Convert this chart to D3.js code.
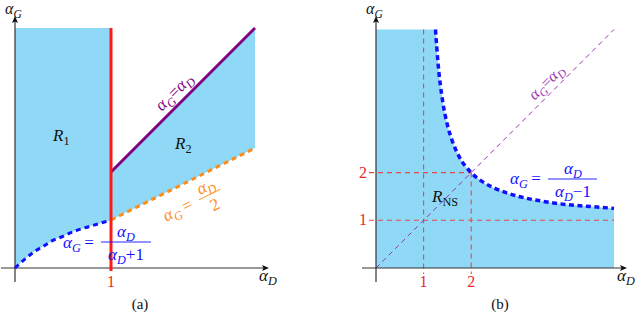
<!DOCTYPE html>
<html>
<head>
<meta charset="utf-8">
<script src="https://cdn.jsdelivr.net/npm/d3@7"></script>
<style>
  body { margin: 0; background: #fff; }
</style>
</head>
<body>
<div id="chart"></div>
<script>
// ---- panel (a) ----
var aDomain = [0, 2.5];
var aTicks = [1];
// alpha_G = alpha_D / (alpha_D + 1)
var aCurve = [[0, 0], [0.1, 0.09], [0.2, 0.17], [0.3, 0.23], [0.4, 0.29], [0.5, 0.33],
              [0.6, 0.375], [0.7, 0.41], [0.8, 0.44], [0.9, 0.47], [1, 0.5]];
var aHalf = [[1, 0.5], [2.5, 1.25]];   // alpha_G = alpha_D / 2
var aDiag = [[1, 1], [2.5, 2.5]];      // alpha_G = alpha_D

// ---- panel (b) ----
var bDomain = [0, 5];
var bTicks = [1, 2];
// alpha_G = alpha_D / (alpha_D - 1)
var bCurve = [[1.25, 5], [1.3, 4.33], [1.4, 3.5], [1.5, 3], [1.6, 2.67], [1.75, 2.33],
              [2, 2], [2.25, 1.8], [2.5, 1.67], [3, 1.5], [3.5, 1.4], [4, 1.33],
              [4.5, 1.29], [5, 1.25]];
var bDiag = [[0, 0], [5, 5]];

var fillBlue = '#8fd9f7';
var axisCol = '#333';
var serif = "'Liberation Serif'";

var svg = d3.select('#chart').append('svg')
    .attr('width', 640)
    .attr('height', 317)
    .style('font-family', serif);

var xA = d3.scaleLinear().domain(aDomain).range([15, 255]);
var yA = d3.scaleLinear().domain(aDomain).range([268, 28]);
var xB = d3.scaleLinear().domain(bDomain).range([376, 614]);
var yB = d3.scaleLinear().domain(bDomain).range([268, 29.5]);

// math-ish text: pieces are [string, kind], kind = i | n | sub | subr
function mathText(parent, x, y, pieces, size, color, anchor) {
    var t = parent.append('text')
        .attr('x', x).attr('y', y)
        .style('font-family', serif)
        .attr('font-size', size)
        .attr('fill', color)
        .attr('text-anchor', anchor || 'start');
    var shift = 0;
    pieces.forEach(function(p) {
        var sub = p[1] === 'sub' || p[1] === 'subr';
        var target = sub ? size * 0.25 : 0;
        t.append('tspan').text(p[0])
            .attr('dy', target - shift)
            .attr('font-size', sub ? size * 0.72 : size)
            .style('font-style', (p[1] === 'i' || p[1] === 'sub') ? 'italic' : 'normal');
        shift = target;
    });
    return t;
}

function plainText(parent, x, y, str, size, color) {
    return parent.append('text').attr('x', x).attr('y', y)
        .attr('text-anchor', 'middle')
        .style('font-family', serif)
        .attr('font-size', size).attr('fill', color).text(str);
}

function arrowHead(x, y, dir) {
    var d = dir === 'up' ? 'M0,0 L-3,7 L0,5.5 L3,7 Z' : 'M0,0 L-7,-3 L-5.5,0 L-7,3 Z';
    svg.append('path').attr('d', d).attr('fill', '#111')
        .attr('transform', 'translate(' + x + ',' + y + ')');
}

// ===================== panel (a) =====================
var gA = svg.append('g');

gA.append('path')
    .datum(aCurve)
    .attr('fill', fillBlue)
    .attr('d', d3.area()
        .x(function(d) { return xA(d[0]); })
        .y0(function(d) { return yA(d[1]); })
        .y1(yA(aDomain[1]))
        .curve(d3.curveMonotoneX));

var aBand = aHalf.map(function(d, i) { return [d[0], d[1], aDiag[i][1]]; });
gA.append('path')
    .datum(aBand)
    .attr('fill', fillBlue)
    .attr('d', d3.area()
        .x(function(d) { return xA(d[0]); })
        .y0(function(d) { return yA(d[1]); })
        .y1(function(d) { return yA(d[2]); }));

// axes
gA.append('line').attr('x1', 1).attr('x2', 266).attr('y1', yA(0)).attr('y2', yA(0))
    .attr('stroke', axisCol).attr('stroke-width', 1.2);
gA.append('line').attr('x1', xA(0)).attr('x2', xA(0)).attr('y1', 282).attr('y2', 19)
    .attr('stroke', axisCol).attr('stroke-width', 1.2);
arrowHead(269, yA(0), 'right');
arrowHead(xA(0), 16, 'up');

var lineA = d3.line().x(function(d) { return xA(d[0]); }).y(function(d) { return yA(d[1]); });

gA.append('path').datum(aCurve)
    .attr('d', lineA.curve(d3.curveMonotoneX))
    .attr('fill', 'none').attr('stroke', '#1010ff')
    .attr('stroke-width', 3).attr('stroke-dasharray', '5,4');
lineA.curve(d3.curveLinear);

gA.append('path').datum(aHalf)
    .attr('d', lineA)
    .attr('fill', 'none').attr('stroke', '#ff8c1a')
    .attr('stroke-width', 3).attr('stroke-dasharray', '5,4');

gA.append('path').datum(aDiag)
    .attr('d', lineA)
    .attr('fill', 'none').attr('stroke', '#800080')
    .attr('stroke-width', 3);

aTicks.forEach(function(t) {
    gA.append('line')
        .attr('x1', xA(t)).attr('x2', xA(t))
        .attr('y1', yA(aDomain[1])).attr('y2', yA(0) + 3)
        .attr('stroke', '#ff1a1a').attr('stroke-width', 3);
    plainText(gA, xA(t), 287, t, 16, '#ff1a1a');
});

// labels (a)
mathText(gA, 5, 14, [['α', 'i'], ['G', 'sub']], 16, '#111');
mathText(gA, 259, 281, [['α', 'i'], ['D', 'sub']], 17, '#111');
mathText(gA, 53, 141, [['R', 'i'], ['1', 'subr']], 17, '#111');
mathText(gA, 175, 149, [['R', 'i'], ['2', 'subr']], 17, '#111');

mathText(gA.append('g').attr('transform', 'translate(175,93) rotate(-45)'),
    0, 4, [['α', 'i'], ['G', 'sub'], ['=', 'n'], ['α', 'i'], ['D', 'sub']], 17, '#800080', 'middle');

// orange label
var gO = gA.append('g').attr('transform', 'translate(169,216) rotate(-26.6)');
mathText(gO, -5, 4, [['α', 'i'], ['G', 'sub'], ['\u2009=', 'n']], 17, '#ff8c1a');
mathText(gO, 46, -5, [['α', 'i'], ['D', 'sub']], 17, '#ff8c1a', 'middle');
gO.append('line').attr('x1', 34).attr('x2', 58).attr('y1', -1).attr('y2', -1)
    .attr('stroke', '#ff8c1a').attr('stroke-width', 0.9);
mathText(gO, 46, 16, [['2', 'n']], 17, '#ff8c1a', 'middle');

// blue label
mathText(gA, 63, 248, [['α', 'i'], ['G', 'sub'], ['\u2009=', 'n']], 17, '#1010ff');
mathText(gA, 126, 237, [['α', 'i'], ['D', 'sub']], 17, '#1010ff', 'middle');
gA.append('line').attr('x1', 101).attr('x2', 151).attr('y1', 242).attr('y2', 242)
    .attr('stroke', '#1010ff').attr('stroke-width', 0.9);
mathText(gA, 126, 260, [['α', 'i'], ['D', 'sub'], ['+1', 'n']], 17, '#1010ff', 'middle');

plainText(gA, 140, 309, '(a)', 15, '#111');

// ===================== panel (b) =====================
var gB = svg.append('g');

var bRegion = [[bDomain[0], bDomain[1]]].concat(bCurve);
gB.append('path')
    .datum(bRegion)
    .attr('fill', fillBlue)
    .attr('d', d3.area()
        .x(function(d) { return xB(d[0]); })
        .y0(yB(0))
        .y1(function(d) { return yB(d[1]); })
        .curve(d3.curveMonotoneX));

// grid dashes
gB.append('line').attr('x1', xB(1)).attr('x2', xB(1))
    .attr('y1', yB(bDomain[1])).attr('y2', yB(0) + 6)
    .attr('stroke', '#e8474a').attr('stroke-width', 1.1).attr('stroke-dasharray', '5,4');
gB.append('line').attr('x1', xB(2)).attr('x2', xB(2))
    .attr('y1', yB(2)).attr('y2', yB(0) + 6)
    .attr('stroke', '#e8474a').attr('stroke-width', 1.1).attr('stroke-dasharray', '5,4');
gB.append('line').attr('x1', 369).attr('x2', xB(2))
    .attr('y1', yB(2)).attr('y2', yB(2))
    .attr('stroke', '#e8474a').attr('stroke-width', 1.1).attr('stroke-dasharray', '5,4');
gB.append('line').attr('x1', 369).attr('x2', xB(bDomain[1]))
    .attr('y1', yB(1)).attr('y2', yB(1))
    .attr('stroke', '#e8474a').attr('stroke-width', 1.1).attr('stroke-dasharray', '5,4');

var lineB = d3.line().x(function(d) { return xB(d[0]); }).y(function(d) { return yB(d[1]); });

gB.append('path').datum(bDiag)
    .attr('d', lineB)
    .attr('fill', 'none').attr('stroke', '#9b30b0')
    .attr('stroke-width', 1).attr('stroke-dasharray', '5,4');

// axes
gB.append('line').attr('x1', 362).attr('x2', 624).attr('y1', yB(0)).attr('y2', yB(0))
    .attr('stroke', axisCol).attr('stroke-width', 1.2);
gB.append('line').attr('x1', xB(0)).attr('x2', xB(0)).attr('y1', 282).attr('y2', 19)
    .attr('stroke', axisCol).attr('stroke-width', 1.2);
arrowHead(627, yB(0), 'right');
arrowHead(xB(0), 16, 'up');

gB.append('path').datum(bCurve)
    .attr('d', lineB.curve(d3.curveMonotoneX))
    .attr('fill', 'none').attr('stroke', '#1010ff')
    .attr('stroke-width', 3.5).attr('stroke-dasharray', '5,3.5');

bTicks.forEach(function(t) {
    plainText(gB, xB(t), 287, t, 16, '#e8282c');
    plainText(gB, 363, yB(t) + 5, t, 16, '#e8282c');
});

// labels (b)
mathText(gB, 366, 14, [['α', 'i'], ['G', 'sub']], 16, '#111');
mathText(gB, 617, 281, [['α', 'i'], ['D', 'sub']], 17, '#111');
mathText(gB, 432, 202, [['R', 'i'], ['NS', 'subr']], 17, '#111');

mathText(gB.append('g').attr('transform', 'translate(547,83) rotate(-45)'),
    0, 4, [['α', 'i'], ['G', 'sub'], ['=', 'n'], ['α', 'i'], ['D', 'sub']], 16, '#9b30b0', 'middle');

mathText(gB, 510, 184, [['α', 'i'], ['G', 'sub'], ['\u2009=', 'n']], 17, '#1010ff');
mathText(gB, 573, 174, [['α', 'i'], ['D', 'sub']], 17, '#1010ff', 'middle');
gB.append('line').attr('x1', 548).attr('x2', 597).attr('y1', 179).attr('y2', 179)
    .attr('stroke', '#1010ff').attr('stroke-width', 0.9);
mathText(gB, 573, 197, [['α', 'i'], ['D', 'sub'], ['\u22121', 'n']], 17, '#1010ff', 'middle');

plainText(gB, 500, 309, '(b)', 15, '#111');
</script>
</body>
</html>
